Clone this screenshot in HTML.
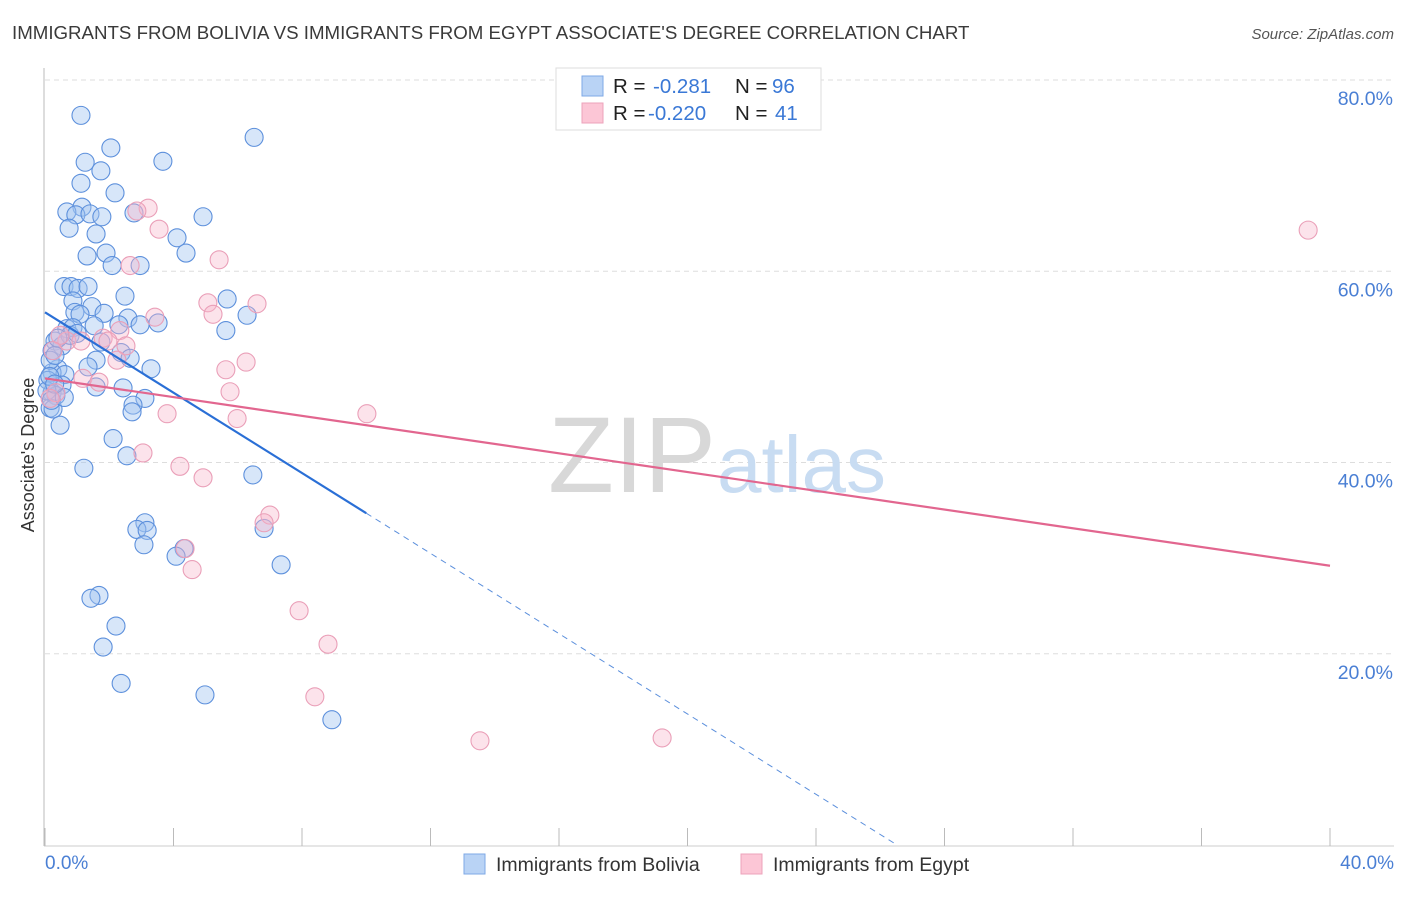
<!DOCTYPE html>
<html><head><meta charset="utf-8"><style>
body{margin:0;background:#fff;font-family:"Liberation Sans",sans-serif;}
svg text{font-family:"Liberation Sans",sans-serif;}
</style></head><body>
<svg id="c" width="1406" height="892" xmlns="http://www.w3.org/2000/svg">
<text x="12" y="39" font-size="18.7" fill="#3a3a3a">IMMIGRANTS FROM BOLIVIA VS IMMIGRANTS FROM EGYPT ASSOCIATE'S DEGREE CORRELATION CHART</text>
<text x="1394" y="39" font-size="15" fill="#555" text-anchor="end" font-style="italic">Source: ZipAtlas.com</text>
<g id="grid"></g>
<text x="716" y="492" font-size="108" fill="#d8d8d8" text-anchor="end" font-family="Liberation Serif">ZIP</text>
<text x="717" y="492" font-size="80" fill="#c8dcf2">atlas</text>
<g id="pts"></g>
<g id="lines"></g>
<text transform="translate(34,455) rotate(-90)" font-size="18" fill="#333" text-anchor="middle">Associate's Degree</text>
<text x="45" y="869" font-size="19" fill="#4a7fd4">0.0%</text>
<text x="1394" y="869" font-size="19" fill="#4a7fd4" text-anchor="end">40.0%</text>
<g>
<rect x="556" y="68" width="265" height="62" fill="#fff" stroke="#ddd"/>
<rect x="582" y="76" width="21" height="20" fill="#b9d3f5" stroke="#7ea8e6"/>
<rect x="582" y="103" width="21" height="20" fill="#fcc6d6" stroke="#eca3bb"/>
<text x="613" y="93" font-size="20.5" fill="#222">R = </text><text x="653" y="93" font-size="20.5" fill="#3a78d6">-0.281</text>
<text x="735" y="93" font-size="20.5" fill="#222">N = </text><text x="772" y="93" font-size="20.5" fill="#3a78d6">96</text>
<text x="613" y="120" font-size="20.5" fill="#222">R = </text><text x="648" y="120" font-size="20.5" fill="#3a78d6">-0.220</text>
<text x="735" y="120" font-size="20.5" fill="#222">N = </text><text x="775" y="120" font-size="20.5" fill="#3a78d6">41</text>
</g>
<g>
<rect x="464" y="854" width="21" height="20" fill="#b9d3f5" stroke="#7ea8e6"/>
<text x="496" y="871" font-size="19.5" fill="#333">Immigrants from Bolivia</text>
<rect x="741" y="854" width="21" height="20" fill="#fcc6d6" stroke="#eca3bb"/>
<text x="773" y="871" font-size="19.5" fill="#333">Immigrants from Egypt</text>
</g>
</svg>
<script>
const yTicks=[20,40,60,80];
const yTickLabels=["20.0%","40.0%","60.0%","80.0%"];
const xTickVals=[0,4,8,12,16,20,24,28,32,36,40];
const boliviaX=[1.12,6.51,2.05,1.25,3.67,1.74,1.12,2.18,1.15,0.68,0.96,1.4,1.77,2.77,4.92,0.75,1.59,4.11,4.39,1.31,1.9,2.09,2.96,0.59,0.81,1.03,1.34,2.49,0.87,5.67,1.46,0.93,1.84,2.58,1.09,6.29,0.68,0.87,1.53,2.3,2.96,3.52,5.63,0.31,0.53,1.74,2.37,0.22,2.65,1.59,3.3,0.4,0.22,0.62,1.34,0.53,1.59,2.43,0.22,0.34,3.11,2.74,2.71,0.16,0.25,0.47,2.12,2.55,1.21,6.47,3.11,2.86,3.18,3.08,4.33,4.08,6.82,7.35,1.68,1.43,2.21,1.81,2.37,4.98,8.93,0.09,0.16,0.06,0.31,0.78,0.2,0.4,1.0,0.15,0.6,0.3];
const boliviaY=[76.3,74.0,72.9,71.4,71.5,70.5,69.2,68.2,66.7,66.2,65.9,66.0,65.7,66.1,65.7,64.5,63.9,63.5,61.9,61.6,61.9,60.6,60.6,58.4,58.4,58.2,58.4,57.4,56.9,57.1,56.3,55.7,55.6,55.1,55.5,55.4,54.0,54.1,54.3,54.4,54.4,54.6,53.8,52.7,52.2,52.6,51.5,51.7,50.9,50.7,49.8,49.8,49.4,49.2,50.0,48.1,47.9,47.8,47.3,47.0,46.7,46.0,45.3,45.7,45.6,43.9,42.5,40.7,39.4,38.7,33.7,33.0,32.9,31.4,31.0,30.2,33.1,29.3,26.1,25.8,22.9,20.7,16.9,15.7,13.1,48.6,50.7,47.5,51.2,53.3,46.5,53.0,53.5,49.0,46.8,48.2];
const egyptX=[3.21,2.86,3.55,5.42,2.65,5.07,5.23,6.6,2.33,3.42,0.68,1.12,1.81,2.52,0.47,1.18,1.68,2.24,6.26,5.63,5.76,0.34,0.16,3.8,5.98,10.02,3.05,4.2,4.92,7.0,6.82,4.36,4.58,7.91,8.81,8.4,13.54,19.21,39.32,0.25,1.96];
const egyptY=[66.6,66.3,64.4,61.2,60.6,56.7,55.5,56.6,53.8,55.2,52.7,52.7,53.0,52.2,53.3,48.8,48.4,50.7,50.5,49.7,47.4,47.3,46.7,45.1,44.6,45.1,41.0,39.6,38.4,34.5,33.7,31.0,28.8,24.5,21.0,15.5,10.9,11.2,64.3,51.7,52.7];
const boliviaTrend=[55.7,-2.1];
const egyptTrend=[48.8,-0.49];
const NS="http://www.w3.org/2000/svg";
const X0=45,X1=1330,Y0=845,Y80=80;
const sx=v=>X0+(X1-X0)*v/40;
const sy=v=>Y0-(Y0-Y80)*v/80;
function mk(t,a,p){const e=document.createElementNS(NS,t);for(const k in a)e.setAttribute(k,a[k]);p.appendChild(e);return e;}
const grid=document.getElementById('grid');
yTicks.forEach((t,i)=>{
  const l=mk('line',{x1:X0,x2:1394,y1:sy(t),y2:sy(t),stroke:'#ddd','stroke-dasharray':'5,4'},grid);
  
  
  const tx=mk('text',{x:1393,y:sy(t)+25,'font-size':19.5,fill:'#4a7fd4','text-anchor':'end'},grid);
  tx.textContent=yTickLabels[i];
  
  
});
const ax=mk('line',{x1:44,x2:44,y1:68,y2:846,stroke:'#bbb'},grid);


const bx=mk('line',{x1:44,x2:1394,y1:846,y2:846,stroke:'#ccc'},grid);


xTickVals.forEach(v=>{
  const t=mk('line',{x1:sx(v),x2:sx(v),y1:828,y2:846,stroke:'#bbb'},grid);
  
  
});
const pts=document.getElementById('pts');
boliviaX.forEach((v,i)=>{
  const c=mk('circle',{cx:sx(v),cy:sy(boliviaY[i]),r:9,fill:'rgba(160,196,240,0.42)',stroke:'#5d90dc','stroke-width':1.1},pts);
  
  
});
egyptX.forEach((v,i)=>{
  const c=mk('circle',{cx:sx(v),cy:sy(egyptY[i]),r:9,fill:'rgba(248,182,202,0.38)',stroke:'#ea9fb8','stroke-width':1.1},pts);
  
  
});
const lines=document.getElementById('lines');
const bEnd=10;const bZero=-boliviaTrend[0]/boliviaTrend[1];
const b1=mk('line',{x1:sx(0),y1:sy(boliviaTrend[0]),x2:sx(bEnd),y2:sy(boliviaTrend[0]+boliviaTrend[1]*bEnd),stroke:'#2a6fd6','stroke-width':2.2},lines);


const b2=mk('line',{x1:sx(bEnd),y1:sy(boliviaTrend[0]+boliviaTrend[1]*bEnd),x2:sx(bZero),y2:sy(0),stroke:'#5b8fdc','stroke-width':1,'stroke-dasharray':'6,5'},lines);


const e1=mk('line',{x1:sx(0),y1:sy(egyptTrend[0]),x2:sx(40),y2:sy(egyptTrend[0]+egyptTrend[1]*40),stroke:'#e2668f','stroke-width':2.2},lines);


</script>
</body></html>
